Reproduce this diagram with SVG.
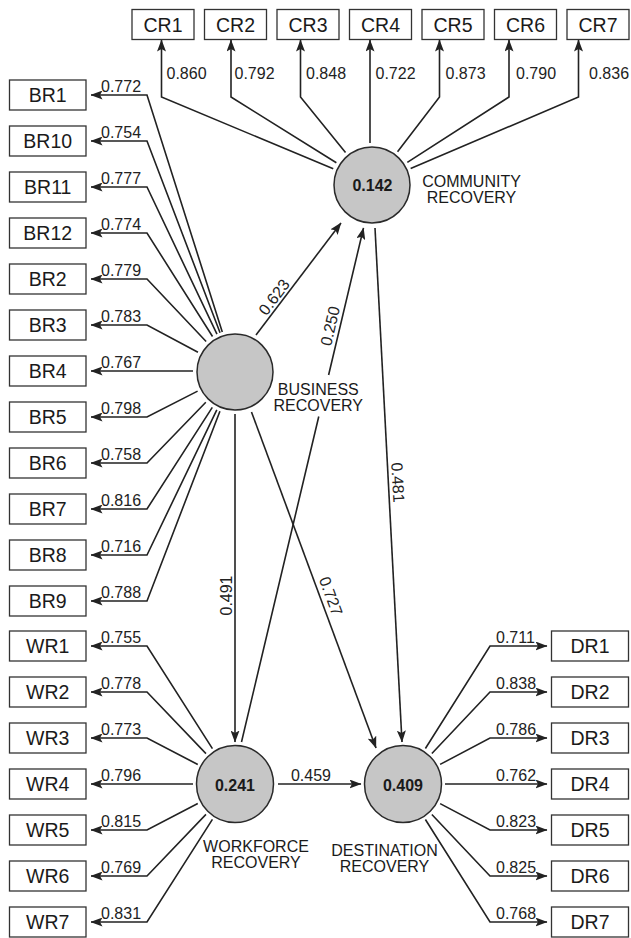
<svg xmlns="http://www.w3.org/2000/svg" width="631" height="938" viewBox="0 0 631 938">
<style>
.bx{fill:#fff;stroke:#333;stroke-width:1.3}
.bt{font-family:"Liberation Sans",Arial,sans-serif;font-size:19.5px;fill:#1a1a1a;text-anchor:middle}
.ld{font-family:"Liberation Sans",Arial,sans-serif;font-size:16px;fill:#222}
.pc{font-family:"Liberation Sans",Arial,sans-serif;font-size:16px;fill:#222;text-anchor:middle}
.nl{font-family:"Liberation Sans",Arial,sans-serif;font-size:16px;fill:#1a1a1a;text-anchor:middle}
.cv{font-family:"Liberation Sans",Arial,sans-serif;font-size:16px;font-weight:bold;fill:#1a1a1a;text-anchor:middle}
.lv{fill:#c6c6c6;stroke:#2a2a2a;stroke-width:1.5}
.cn{fill:none;stroke:#222;stroke-width:1.6;marker-end:url(#ah)}
</style>
<defs>
<marker id="ah" markerUnits="userSpaceOnUse" markerWidth="12" markerHeight="9" refX="11.5" refY="4.5" orient="auto">
<path d="M0,0 L12,4.5 L0,9 L2.5,4.5 z" fill="#222"/>
</marker>
</defs>
<rect width="631" height="938" fill="#fff"/>

<g id="connectors">
<path class="cn" d="M333.25,168.8 L161.5,97 L161.5,40"/>
<path class="cn" d="M336.37,162.76 L231,97 L231,40"/>
<path class="cn" d="M345.52,152.4 L300.5,97 L300.5,40"/>
<path class="cn" d="M370,143 L370,40"/>
<path class="cn" d="M397.56,151.67 L439.5,97 L439.5,40"/>
<path class="cn" d="M407.34,162.3 L509,97 L509,40"/>
<path class="cn" d="M410.64,168.53 L578.5,97 L578.5,40"/>
<path class="cn" d="M222.28,331.97 L147,95 L91,95"/>
<path class="cn" d="M220.05,332.75 L147,141 L91,141"/>
<path class="cn" d="M216.96,334.07 L147,187 L91,187"/>
<path class="cn" d="M212.53,336.51 L147,233 L91,233"/>
<path class="cn" d="M206.13,341.49 L147,279 L91,279"/>
<path class="cn" d="M197.95,352.21 L147,325 L91,325"/>
<path class="cn" d="M193,371 L91,371"/>
<path class="cn" d="M197.61,391.12 L147,417 L91,417"/>
<path class="cn" d="M205.8,402.19 L147,463 L91,463"/>
<path class="cn" d="M212.3,407.34 L147,509 L91,509"/>
<path class="cn" d="M216.8,409.85 L147,555 L91,555"/>
<path class="cn" d="M219.93,411.2 L147,601 L91,601"/>
<path class="cn" d="M212.42,748.59 L147,646 L91,646"/>
<path class="cn" d="M205.97,753.65 L147,692 L91,692"/>
<path class="cn" d="M197.78,764.54 L147,738 L91,738"/>
<path class="cn" d="M193,784 L91,784"/>
<path class="cn" d="M197.78,803.46 L147,830 L91,830"/>
<path class="cn" d="M205.97,814.35 L147,876 L91,876"/>
<path class="cn" d="M212.42,819.41 L147,922 L91,922"/>
<path class="cn" d="M425.4,748.47 L490,646 L547,646"/>
<path class="cn" d="M431.86,753.48 L490,692 L547,692"/>
<path class="cn" d="M440.13,764.37 L490,738 L547,738"/>
<path class="cn" d="M445,784 L547,784"/>
<path class="cn" d="M440.13,803.63 L490,830 L547,830"/>
<path class="cn" d="M431.86,814.52 L490,876 L547,876"/>
<path class="cn" d="M425.4,819.53 L490,922 L547,922"/>
<path class="cn" d="M256,335 L341,223"/>
<path class="cn" d="M241.5,742 L318.76,416.5 M328.61,375 L363.5,228"/>
<path class="cn" d="M375,228 L402,742"/>
<path class="cn" d="M235,414 L235,742"/>
<path class="cn" d="M251.5,412 L376,748"/>
<path class="cn" d="M278,784 L361,784"/>
<text class="ld" x="166.5" y="79">0.860</text>
<text class="ld" x="234.5" y="79">0.792</text>
<text class="ld" x="306" y="79">0.848</text>
<text class="ld" x="375.5" y="79">0.722</text>
<text class="ld" x="445.5" y="79">0.873</text>
<text class="ld" x="516" y="79">0.790</text>
<text class="ld" x="589" y="79">0.836</text>
<text class="ld" x="101" y="92">0.772</text>
<text class="ld" x="101" y="138">0.754</text>
<text class="ld" x="101" y="184">0.777</text>
<text class="ld" x="101" y="230">0.774</text>
<text class="ld" x="101" y="276">0.779</text>
<text class="ld" x="101" y="322">0.783</text>
<text class="ld" x="101" y="368">0.767</text>
<text class="ld" x="101" y="414">0.798</text>
<text class="ld" x="101" y="460">0.758</text>
<text class="ld" x="101" y="506">0.816</text>
<text class="ld" x="101" y="552">0.716</text>
<text class="ld" x="101" y="598">0.788</text>
<text class="ld" x="101" y="643">0.755</text>
<text class="ld" x="101" y="689">0.778</text>
<text class="ld" x="101" y="735">0.773</text>
<text class="ld" x="101" y="781">0.796</text>
<text class="ld" x="101" y="827">0.815</text>
<text class="ld" x="101" y="873">0.769</text>
<text class="ld" x="101" y="919">0.831</text>
<text class="ld" x="496" y="643">0.711</text>
<text class="ld" x="496" y="689">0.838</text>
<text class="ld" x="496" y="735">0.786</text>
<text class="ld" x="496" y="781">0.762</text>
<text class="ld" x="496" y="827">0.823</text>
<text class="ld" x="496" y="873">0.825</text>
<text class="ld" x="496" y="919">0.768</text>
<text class="pc" transform="translate(274,297) rotate(-53.2)" x="0" y="5.7">0.623</text>
<text class="pc" transform="translate(330,326) rotate(-76.7)" x="0" y="5.7">0.250</text>
<text class="pc" transform="translate(226.7,595.5) rotate(-90)" x="0" y="5.7">0.491</text>
<text class="pc" transform="translate(331,596) rotate(69.7)" x="0" y="5.7">0.727</text>
<text class="pc" transform="translate(398,482.5) rotate(87)" x="0" y="5.7">0.481</text>
<text class="pc" x="311" y="780.5">0.459</text>
</g>

<g id="node-community-recovery">
<circle class="lv" cx="372" cy="185" r="38"/>
<text class="cv" x="372.5" y="190.5">0.142</text>
<text class="nl" x="471.5" y="186.5">COMMUNITY</text>
<text class="nl" x="471.5" y="202.5">RECOVERY</text>
</g>
<g id="node-business-recovery">
<circle class="lv" cx="235" cy="372" r="38"/>
<text class="nl" x="318.3" y="394.5">BUSINESS</text>
<text class="nl" x="318.3" y="410.5">RECOVERY</text>
</g>
<g id="node-workforce-recovery">
<circle class="lv" cx="235" cy="784" r="38.5"/>
<text class="cv" x="235" y="790.5">0.241</text>
<text class="nl" x="256" y="851.5">WORKFORCE</text>
<text class="nl" x="256" y="868">RECOVERY</text>
</g>
<g id="node-destination-recovery">
<circle class="lv" cx="403" cy="784" r="38.5"/>
<text class="cv" x="403" y="790.5">0.409</text>
<text class="nl" x="384.5" y="855.5">DESTINATION</text>
<text class="nl" x="384.5" y="872">RECOVERY</text>
</g>

<g id="CR1"><rect class="bx" x="132" y="9.5" width="62" height="30"/><text class="bt" x="163" y="31.7">CR1</text></g>
<g id="CR2"><rect class="bx" x="204.5" y="9.5" width="62" height="30"/><text class="bt" x="235.5" y="31.7">CR2</text></g>
<g id="CR3"><rect class="bx" x="277" y="9.5" width="62" height="30"/><text class="bt" x="308" y="31.7">CR3</text></g>
<g id="CR4"><rect class="bx" x="349.5" y="9.5" width="62" height="30"/><text class="bt" x="380.5" y="31.7">CR4</text></g>
<g id="CR5"><rect class="bx" x="422" y="9.5" width="62" height="30"/><text class="bt" x="453" y="31.7">CR5</text></g>
<g id="CR6"><rect class="bx" x="494.5" y="9.5" width="62" height="30"/><text class="bt" x="525.5" y="31.7">CR6</text></g>
<g id="CR7"><rect class="bx" x="567" y="9.5" width="62" height="30"/><text class="bt" x="598" y="31.7">CR7</text></g>

<g id="BR1"><rect class="bx" x="9.5" y="80" width="76.5" height="30"/><text class="bt" x="47.75" y="102">BR1</text></g>
<g id="BR10"><rect class="bx" x="9.5" y="126" width="76.5" height="30"/><text class="bt" x="47.75" y="148">BR10</text></g>
<g id="BR11"><rect class="bx" x="9.5" y="172" width="76.5" height="30"/><text class="bt" x="47.75" y="194">BR11</text></g>
<g id="BR12"><rect class="bx" x="9.5" y="218" width="76.5" height="30"/><text class="bt" x="47.75" y="240">BR12</text></g>
<g id="BR2"><rect class="bx" x="9.5" y="264" width="76.5" height="30"/><text class="bt" x="47.75" y="286">BR2</text></g>
<g id="BR3"><rect class="bx" x="9.5" y="310" width="76.5" height="30"/><text class="bt" x="47.75" y="332">BR3</text></g>
<g id="BR4"><rect class="bx" x="9.5" y="356" width="76.5" height="30"/><text class="bt" x="47.75" y="378">BR4</text></g>
<g id="BR5"><rect class="bx" x="9.5" y="402" width="76.5" height="30"/><text class="bt" x="47.75" y="424">BR5</text></g>
<g id="BR6"><rect class="bx" x="9.5" y="448" width="76.5" height="30"/><text class="bt" x="47.75" y="470">BR6</text></g>
<g id="BR7"><rect class="bx" x="9.5" y="494" width="76.5" height="30"/><text class="bt" x="47.75" y="516">BR7</text></g>
<g id="BR8"><rect class="bx" x="9.5" y="540" width="76.5" height="30"/><text class="bt" x="47.75" y="562">BR8</text></g>
<g id="BR9"><rect class="bx" x="9.5" y="586" width="76.5" height="30"/><text class="bt" x="47.75" y="608">BR9</text></g>

<g id="WR1"><rect class="bx" x="9.5" y="631" width="76.5" height="30"/><text class="bt" x="47.75" y="653">WR1</text></g>
<g id="WR2"><rect class="bx" x="9.5" y="677" width="76.5" height="30"/><text class="bt" x="47.75" y="699">WR2</text></g>
<g id="WR3"><rect class="bx" x="9.5" y="723" width="76.5" height="30"/><text class="bt" x="47.75" y="745">WR3</text></g>
<g id="WR4"><rect class="bx" x="9.5" y="769" width="76.5" height="30"/><text class="bt" x="47.75" y="791">WR4</text></g>
<g id="WR5"><rect class="bx" x="9.5" y="815" width="76.5" height="30"/><text class="bt" x="47.75" y="837">WR5</text></g>
<g id="WR6"><rect class="bx" x="9.5" y="861" width="76.5" height="30"/><text class="bt" x="47.75" y="883">WR6</text></g>
<g id="WR7"><rect class="bx" x="9.5" y="907" width="76.5" height="30"/><text class="bt" x="47.75" y="929">WR7</text></g>

<g id="DR1"><rect class="bx" x="551.5" y="631" width="77" height="30"/><text class="bt" x="590" y="653">DR1</text></g>
<g id="DR2"><rect class="bx" x="551.5" y="677" width="77" height="30"/><text class="bt" x="590" y="699">DR2</text></g>
<g id="DR3"><rect class="bx" x="551.5" y="723" width="77" height="30"/><text class="bt" x="590" y="745">DR3</text></g>
<g id="DR4"><rect class="bx" x="551.5" y="769" width="77" height="30"/><text class="bt" x="590" y="791">DR4</text></g>
<g id="DR5"><rect class="bx" x="551.5" y="815" width="77" height="30"/><text class="bt" x="590" y="837">DR5</text></g>
<g id="DR6"><rect class="bx" x="551.5" y="861" width="77" height="30"/><text class="bt" x="590" y="883">DR6</text></g>
<g id="DR7"><rect class="bx" x="551.5" y="907" width="77" height="30"/><text class="bt" x="590" y="929">DR7</text></g>
</svg>
